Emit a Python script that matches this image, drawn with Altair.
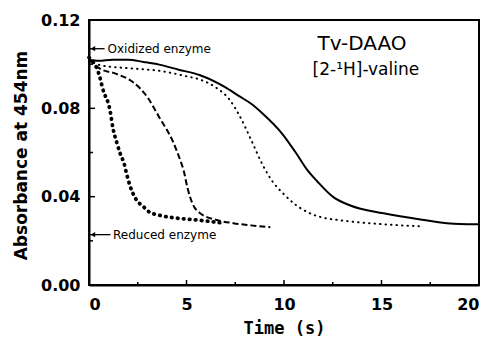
import altair as alt
import pandas as pd

# ---- data ----
t_solid = [0, 0.5, 1.2, 2.0, 2.8, 3.6, 4.6, 5.7, 7.0, 7.7, 8.3, 8.9, 9.9, 10.6, 11.2, 11.7, 12.5, 13.4, 15.1, 17.0, 19.0, 20.0]
a_solid = [0.1020, 0.1015, 0.1020, 0.1020, 0.1010, 0.0998, 0.0975, 0.0950, 0.0895, 0.0855, 0.0822, 0.0777, 0.0686, 0.0600, 0.0520, 0.0470, 0.0400, 0.0360, 0.0325, 0.0297, 0.0276, 0.0275]

t_dot = [0, 0.6, 2.3, 3.6, 5.0, 5.7, 6.5, 7.2, 7.7, 8.3, 8.9, 9.4, 9.95, 10.5, 11.2, 12.0, 12.9, 15.1, 17.0]
a_dot = [0.1020, 0.0995, 0.0980, 0.0970, 0.0945, 0.0930, 0.0895, 0.0840, 0.0770, 0.0660, 0.0545, 0.0470, 0.0415, 0.0370, 0.0330, 0.0305, 0.0293, 0.0275, 0.0266]

t_dash = [0, 0.56, 1.4, 2.3, 3.0, 3.6, 4.3, 4.7, 4.85, 5.05, 5.3, 5.7, 6.6, 7.4, 8.3, 9.3]
a_dash = [0.1020, 0.0980, 0.0956, 0.0916, 0.0850, 0.0760, 0.0650, 0.0560, 0.0520, 0.0440, 0.0370, 0.0325, 0.0293, 0.0280, 0.0270, 0.0262]

t_big = [0, 0.56, 0.7, 1.08, 1.23, 1.44, 1.6, 1.8, 1.95, 2.1, 2.4, 2.8, 3.1, 3.6, 4.3, 5.2, 6.0, 6.9]
a_big = [0.1030, 0.0940, 0.0890, 0.0790, 0.0710, 0.0640, 0.0595, 0.0550, 0.0496, 0.0450, 0.0390, 0.0354, 0.0330, 0.0316, 0.0305, 0.0297, 0.0290, 0.0280]

x_major_ticks = [5, 10, 15]
x_minor_ticks = [2.5, 7.5, 12.5, 17.5]
y_major_ticks = [0.04, 0.08]
y_minor_ticks = [0.02, 0.06, 0.10]
x_labels = [0, 5, 10, 15, 20]
y_labels = [0.0, 0.04, 0.08, 0.12]

ann_text = ["Oxidized enzyme", "Reduced enzyme"]
ann_y = [0.107, 0.0228]
ann_arrow_end = [0.8, 1.1]
ann_text_x = [0.95, 1.23]

title_lines = ["Tv-DAAO", "[2-\u00b9H]-valine"]
title_x = [14.0, 14.2]
title_y = [0.1093, 0.0972]
title_size = [20, 17]

W, H = 390, 265

xscale = alt.Scale(domain=[0, 20], nice=False, zero=False)
yscale = alt.Scale(domain=[0, 0.12], nice=False, zero=False)

xaxis = alt.Axis(values=x_labels, format="d", title="Time (s)", grid=False, ticks=False,
                 domainColor="black", domainWidth=2, labelFont="DejaVu Sans", labelFontWeight="bold",
                 labelFontSize=16, labelColor="black", labelPadding=11,
                 titleFont="DejaVu Sans Mono", titleFontWeight="bold", titleFontSize=17,
                 titleColor="black", titleY=43, titleBaseline="middle")
yaxis = alt.Axis(values=y_labels, format=".2f", title="Absorbance at 454nm", grid=False, ticks=False,
                 domainColor="black", domainWidth=2, labelFont="DejaVu Sans", labelFontWeight="bold",
                 labelFontSize=16, labelColor="black", labelPadding=9,
                 titleFont="DejaVu Sans", titleFontWeight="bold", titleFontSize=17,
                 titleColor="black", titleX=-68, titleY=135, titleBaseline="middle", titleAngle=-90)


def X(field="t"):
    return alt.X(f"{field}:Q", scale=xscale, axis=xaxis)


def Y(field="a"):
    return alt.Y(f"{field}:Q", scale=yscale, axis=yaxis)


def curve(ts, vals, **style):
    df = pd.DataFrame({"t": ts, "a": vals})
    return alt.Chart(df).mark_line(color="black", interpolate="monotone", **style).encode(x=X(), y=Y())


solid = curve(t_solid, a_solid, strokeWidth=2)
dotted = curve(t_dot, a_dot, strokeWidth=2, strokeDash=[0.5, 5], strokeCap="round")
dashed = curve(t_dash, a_dash, strokeWidth=2, strokeDash=[6, 3])
bigdot = curve(t_big, a_big, strokeWidth=3.8, strokeDash=[0.5, 5.5], strokeCap="round")

# inward ticks
xt_major = alt.Chart(pd.DataFrame({"t": x_major_ticks})).mark_rule(color="black", strokeWidth=1.5).encode(
    x=X(), y=alt.value(H), y2=alt.value(H - 5))
xt_minor = alt.Chart(pd.DataFrame({"t": x_minor_ticks})).mark_rule(color="black", strokeWidth=1.5).encode(
    x=X(), y=alt.value(H), y2=alt.value(H - 3))
yt_major = alt.Chart(pd.DataFrame({"a": y_major_ticks})).mark_rule(color="black", strokeWidth=1.5).encode(
    y=Y(), x=alt.value(0), x2=alt.value(6))
yt_minor = alt.Chart(pd.DataFrame({"a": y_minor_ticks})).mark_rule(color="black", strokeWidth=1.5).encode(
    y=Y(), x=alt.value(0), x2=alt.value(4))

ann_df = pd.DataFrame({"label": ann_text, "a": ann_y, "t0": [0, 0], "t2": ann_arrow_end,
                       "tt": ann_text_x, "th": [0.2, 0.2]})
arrow_lines = alt.Chart(ann_df).mark_rule(color="black", strokeWidth=1.3).encode(
    x=X("t0"), x2=alt.X2("t2:Q"), y=Y())
arrow_heads = alt.Chart(ann_df).mark_point(shape="triangle-left", filled=True, color="black",
                                           size=28, opacity=1).encode(x=X("th"), y=Y())
ann_labels = alt.Chart(ann_df).mark_text(align="left", baseline="middle", font="DejaVu Sans",
                                         fontSize=12, color="black").encode(
    x=X("tt"), y=Y(), text="label:N")

title_df = pd.DataFrame({"label": title_lines, "t": title_x, "a": title_y, "s": title_size})
titles = alt.Chart(title_df).mark_text(align="center", baseline="middle", font="DejaVu Sans",
                                       color="black").encode(
    x=X(), y=Y(), text="label:N", size=alt.Size("s:Q", scale=None, legend=None))

chart = alt.layer(
    solid, dotted, dashed, bigdot,
    xt_major, xt_minor, yt_major, yt_minor,
    arrow_lines, arrow_heads, ann_labels, titles
).properties(
    width=W, height=H,
    autosize=alt.AutoSizeParams(type="none"),
    padding={"left": 89, "top": 20, "right": 9, "bottom": 53},
    background="white"
).configure_view(stroke="black", strokeWidth=2)

chart.save("out.html", embed_options={"renderer": "svg", "actions": False})
